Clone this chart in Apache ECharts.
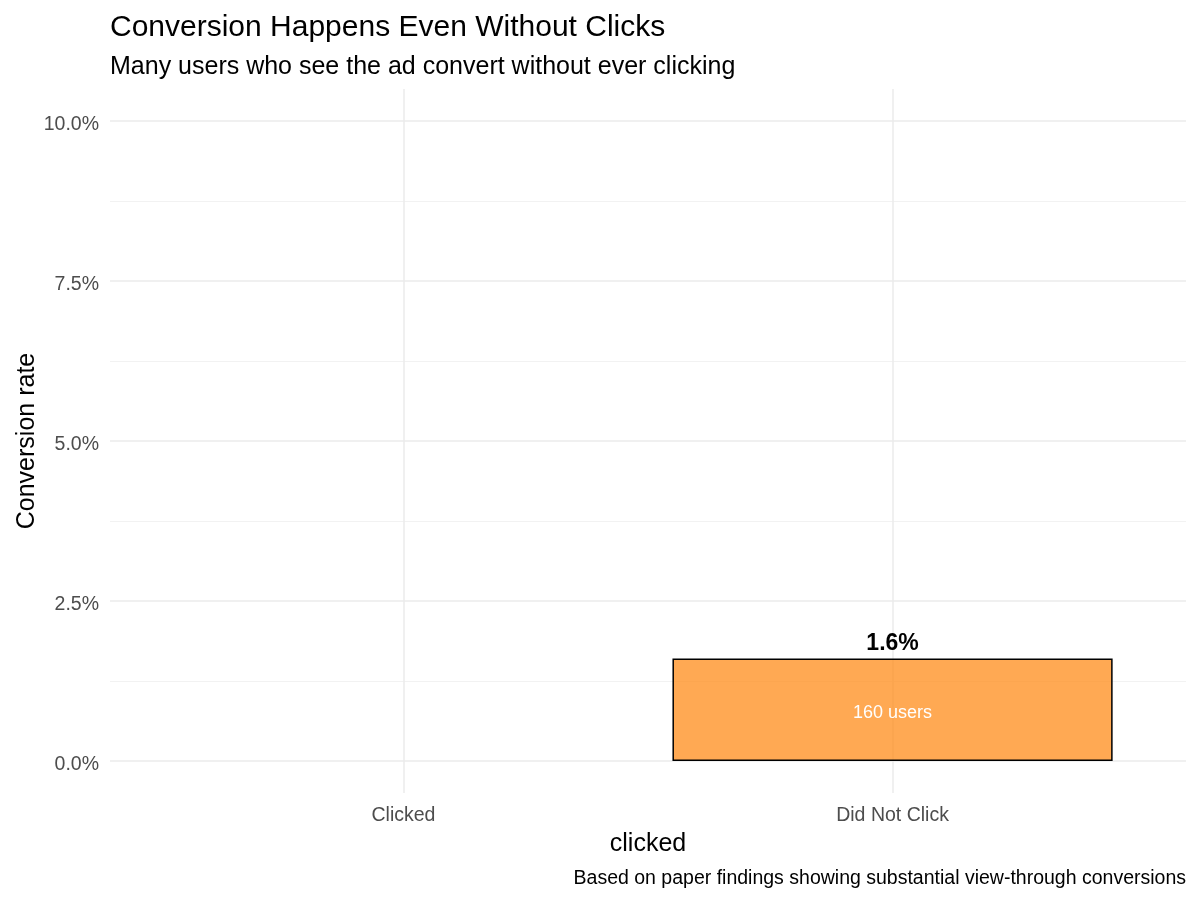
<!DOCTYPE html>
<html>
<head>
<meta charset="utf-8">
<script src="https://cdn.jsdelivr.net/npm/echarts@6/dist/echarts.min.js"></script>
<style>html,body{margin:0;padding:0;background:#fff}#c{width:1200px;height:900px}</style>
</head>
<body>
<div id="c"></div>
<script>
const categories = ['Clicked', 'Did Not Click'];
const conversionRates = [null, 1.6];   // percent
const convertedUsers = [null, 160];
const yMajorTicks = [0, 2.5, 5, 7.5, 10];
const yMinorTicks = [1.25, 3.75, 6.25, 8.75];

const FONT = '"Liberation Sans", Arial, sans-serif';
const gridLeft = 110, gridRight = 14, gridTop = 89, gridBottom = 107;
const xMin = 0.4, xMax = 2.6;
const plotW = 1200 - gridLeft - gridRight;
const barW = 0.9 * plotW / (xMax - xMin);

const barData = categories.map((c, i) => [i + 1, conversionRates[i]]).filter(d => d[1] != null);
const userLabel = {};
categories.forEach((c, i) => { if (convertedUsers[i] != null) userLabel[i + 1] = convertedUsers[i]; });

const chart = echarts.init(document.getElementById('c'));
chart.setOption({
  animation: false,
  backgroundColor: '#fff',
  textStyle: { fontFamily: FONT },
  title: {
    text: 'Conversion Happens Even Without Clicks',
    subtext: 'Many users who see the ad convert without ever clicking',
    left: 105, top: 8,
    textStyle: { fontFamily: FONT, fontSize: 30, fontWeight: 'normal', color: '#000' },
    subtextStyle: { fontFamily: FONT, fontSize: 25, color: '#000' },
    itemGap: 12
  },
  grid: { left: gridLeft, right: gridRight, top: gridTop, bottom: gridBottom },
  xAxis: {
    type: 'value', min: xMin, max: xMax,
    name: 'clicked', nameLocation: 'middle', nameGap: 39,
    nameTextStyle: { fontFamily: FONT, fontSize: 25, color: '#000' },
    axisLine: { show: false },
    axisTick: { show: false, customValues: categories.map((c, i) => i + 1) },
    axisLabel: {
      customValues: categories.map((c, i) => i + 1),
      formatter: v => categories[Math.round(v) - 1] || '',
      fontFamily: FONT, fontSize: 19.5, color: '#4d4d4d', margin: 13
    },
    splitLine: { show: true, lineStyle: { color: '#ebebeb', width: 1.5 } }
  },
  yAxis: [{
    type: 'value', min: -0.5, max: 10.5,
    name: 'Conversion rate', nameLocation: 'middle', nameGap: 70, nameRotate: 90,
    nameMoveOverlap: false,
    nameTextStyle: { fontFamily: FONT, fontSize: 25, color: '#000' },
    axisLine: { show: false },
    axisTick: { show: false, customValues: yMajorTicks },
    axisLabel: {
      customValues: yMajorTicks,
      formatter: v => '{t|' + v.toFixed(1) + '%}',
      margin: 11,
      rich: { t: { fontFamily: FONT, fontSize: 19.5, color: '#4d4d4d', padding: [7, 0, 0, 0] } }
    },
    splitLine: { show: true, lineStyle: { color: '#ebebeb', width: 1.5 } }
  }, {
    type: 'value', min: -0.5, max: 10.5, position: 'left',
    axisLine: { show: false },
    axisTick: { show: false, customValues: yMinorTicks },
    axisLabel: { show: false, customValues: yMinorTicks },
    splitLine: { show: true, lineStyle: { color: '#f2f2f2', width: 1 } }
  }],
  series: [{
    type: 'bar',
    data: barData,
    barWidth: barW,
    itemStyle: { color: 'rgba(255,140,26,0.75)', borderColor: '#000', borderWidth: 1.5 },
    label: {
      show: true, position: 'top', distance: 3,
      formatter: p => p.value[1].toFixed(1) + '%',
      fontFamily: FONT, fontSize: 23, fontWeight: 'bold', color: '#000'
    },
    z: 3
  }, {
    type: 'bar',
    data: barData,
    barWidth: barW,
    barGap: '-100%',
    itemStyle: { color: 'rgba(0,0,0,0)' },
    label: {
      show: true, position: 'inside', offset: [0, 3],
      formatter: p => userLabel[p.value[0]] + ' users',
      fontFamily: FONT, fontSize: 18, color: '#fff'
    },
    z: 4
  }],
  graphic: [{
    type: 'text', right: 14, top: 869,
    style: { text: 'Based on paper findings showing substantial view-through conversions', fontFamily: FONT, fontSize: 19.5, fill: '#000' }
  }]
});
</script>
</body>
</html>
